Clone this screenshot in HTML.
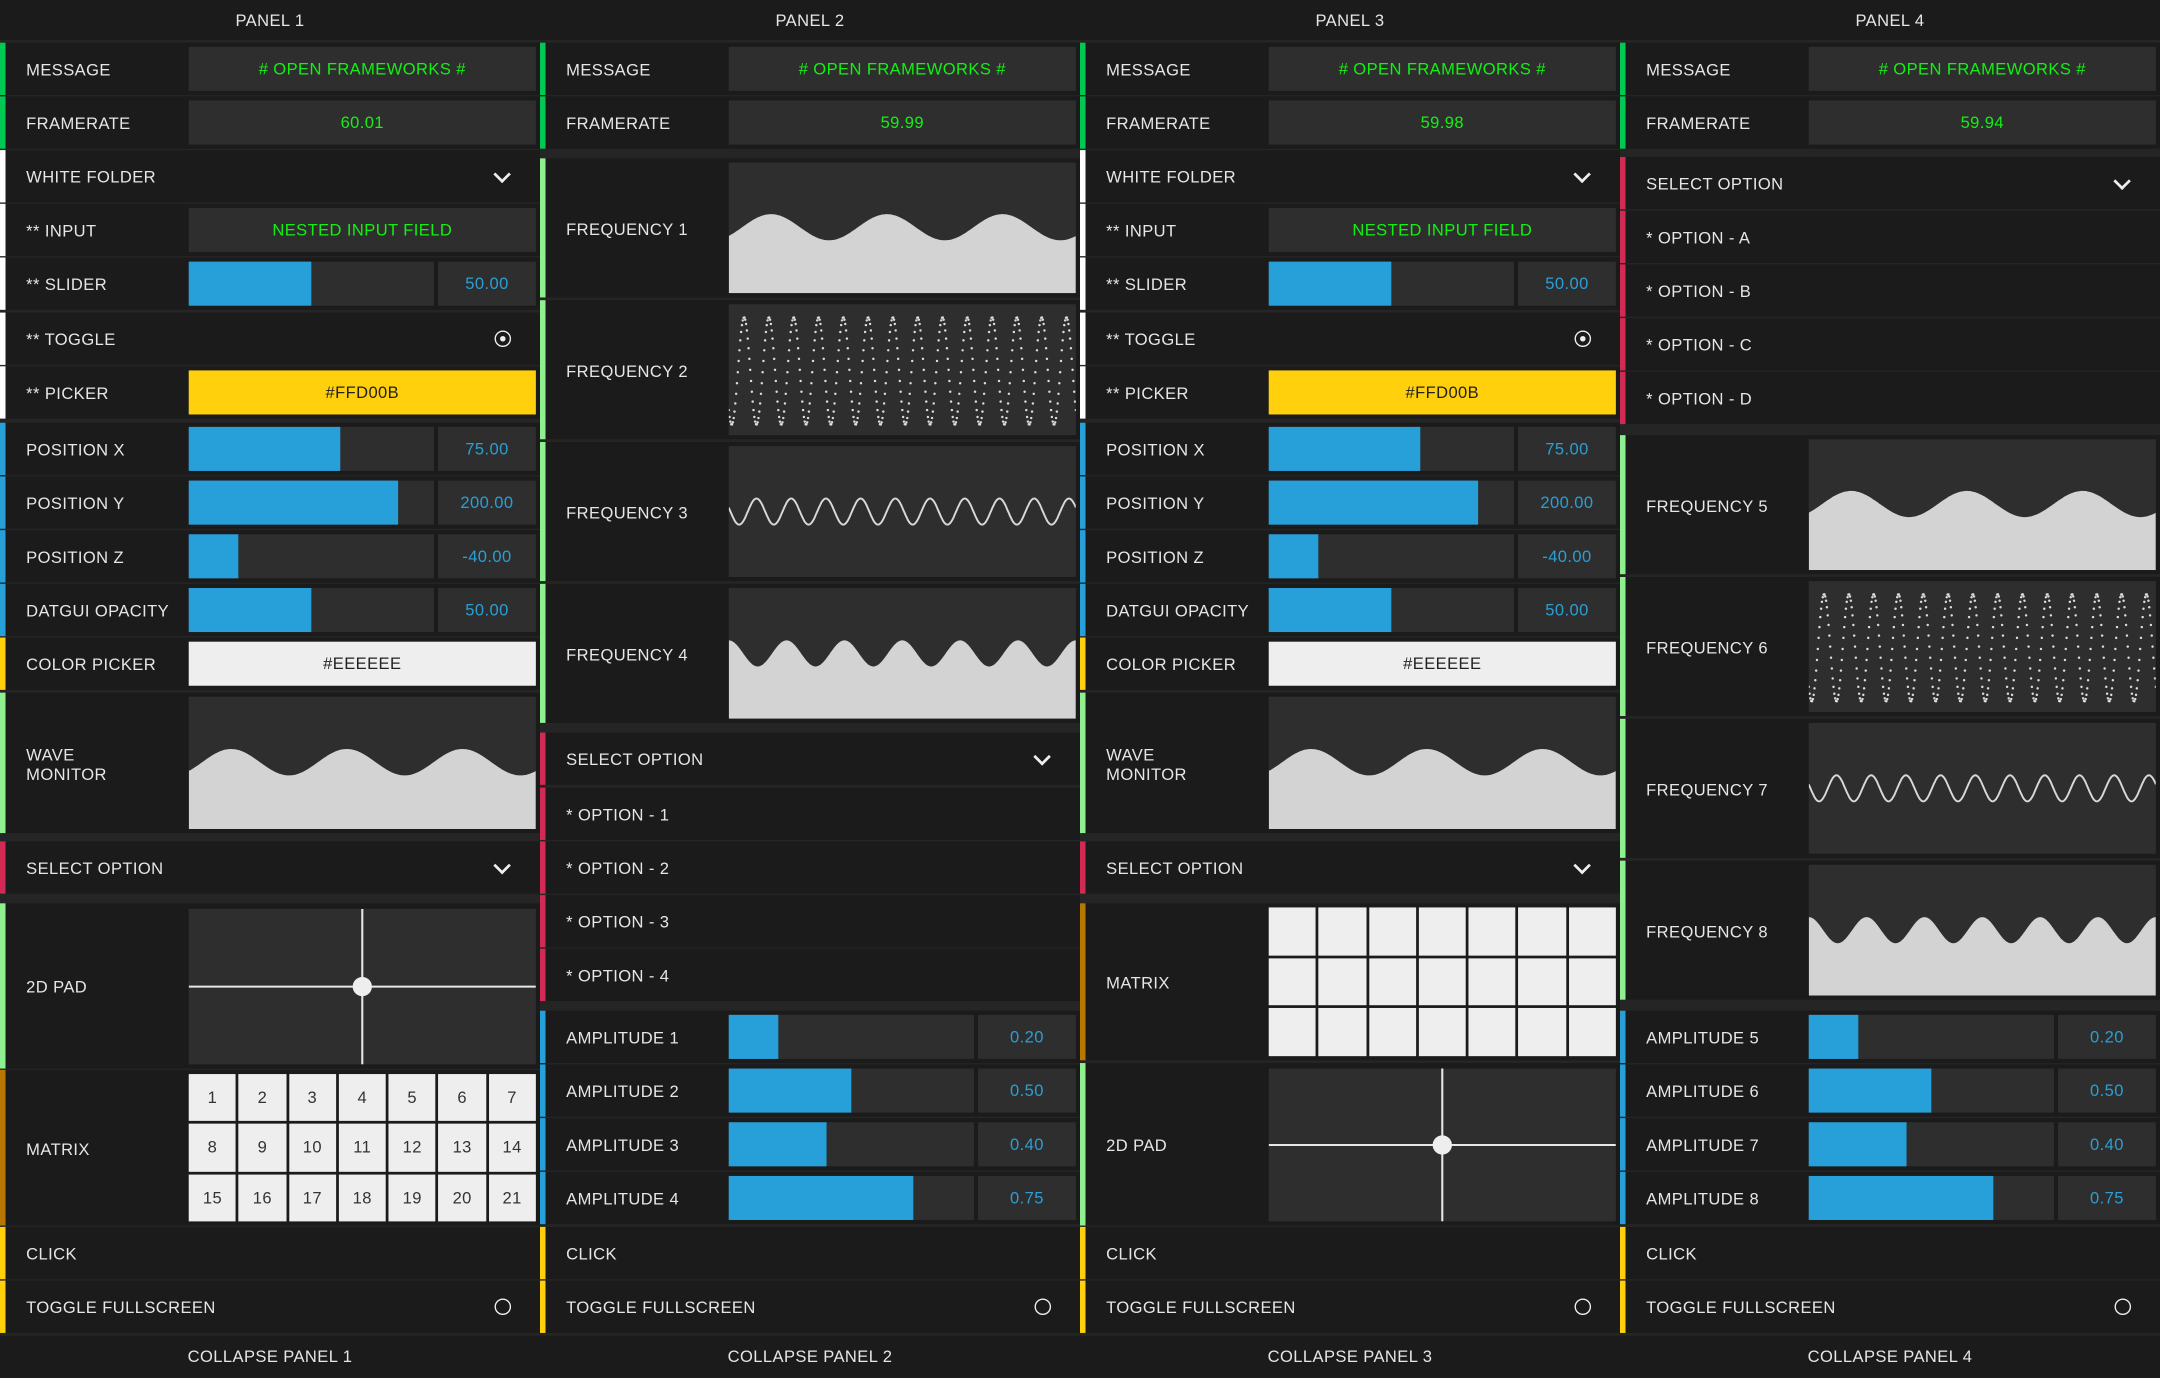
<!DOCTYPE html>
<html><head><meta charset="utf-8"><style>
html,body{margin:0;padding:0;background:#1b1b1b;overflow:hidden}
#stage{position:absolute;left:0;top:0;width:1568px;height:1000px;transform-origin:0 0;transform:scale(1.37755,1.377);font-family:"Liberation Sans",sans-serif;font-size:12px;color:#e6e6e6;letter-spacing:0.3px}
.panel{position:absolute;top:0;width:392px;height:1000px;background:#252525}
.hdr,.ftr{position:absolute;left:0;width:392px;background:#1b1b1b;text-align:center}
.row{position:absolute;left:0;width:392px;background:#1b1b1b}
.stripe{position:absolute;left:0;top:0;bottom:0;width:4px}
.lbl{position:absolute;left:19px;top:50%;transform:translateY(-45%);line-height:14px;white-space:pre}
.box{position:absolute;left:137px;width:252px;background:#2e2e2e;text-align:center}
.chev{position:absolute;left:360px;top:50%;width:7px;height:7px;border-right:2px solid #eee;border-bottom:2px solid #eee;transform:translateY(-65%) rotate(45deg)}
.ring{position:absolute;left:359px;top:50%;width:10px;height:10px;margin-top:-6px;border:1.5px solid #eee;border-radius:50%}
.dot{position:absolute;left:3px;top:3px;width:4px;height:4px;background:#eee;border-radius:50%}
</style></head><body>
<div id="stage"></div>
<script>
// ---- data ----
const panelTitles = ["PANEL 1","PANEL 2","PANEL 3","PANEL 4"];
const framerates = ["60.01","59.99","59.98","59.94"];
const sliderLabels = ["** SLIDER","POSITION X","POSITION Y","POSITION Z","DATGUI OPACITY"];
const sliderFractions = [0.5,0.62,0.855,0.2,0.5];
const sliderValues = ["50.00","75.00","200.00","-40.00","50.00"];
const ampLabels2 = ["AMPLITUDE 1","AMPLITUDE 2","AMPLITUDE 3","AMPLITUDE 4"];
const ampLabels4 = ["AMPLITUDE 5","AMPLITUDE 6","AMPLITUDE 7","AMPLITUDE 8"];
const ampValues = [0.20,0.50,0.40,0.75];
const waveCycles = [3,14,10,6];
const wavePhases = [0.366,0.62,0.8,0];
const waveAmps = [0.1,0.41,0.1,0.1];
const waveMids = [0.495,0.51,0.5,0.5];
const matrixNumbers = [1,2,3,4,5,6,7,8,9,10,11,12,13,14,15,16,17,18,19,20,21];

const G="#00c853",W="#ffffff",B="#27a0da",Y="#ffd00b",LG="#8ef08e",R="#d02a55",BR="#b87800";
const stage=document.getElementById('stage');

function mk(parent,cls,style){const e=document.createElement('div');if(cls)e.className=cls;if(style)e.style.cssText=style;parent.appendChild(e);return e;}

function row(panel,top,h,color,label){
  const r=mk(panel,'row','top:'+top+'px;height:'+h+'px');
  
  
  const s=mk(r,'stripe','background:'+color);
  
  
  const l=mk(r,'lbl');l.textContent=label;
  
  
  return r;
}
function box(r,h,top,extra){const b=mk(r,'box','top:'+(top||3)+'px;height:'+h+'px;line-height:'+(h+1)+'px;'+(extra||''));return b;}

function textRow(p,top,color,label,val){
  const r=row(p,top,38,color,label);
  const b=box(r,32,3,'color:#14f014');b.textContent=val;
  
  
}
function folderRow(p,top,color,label){
  const r=row(p,top,38,color,label);
  
  const c=mk(r,'chev');
  
  
}
function sliderRow(p,top,color,label,frac,val){
  const r=row(p,top,38,color,label);
  const t=mk(r,'box','top:3px;height:32px;width:178px');
  
  
  const f=mk(t,'','position:absolute;left:0;top:0;height:32px;background:#27a0da;width:'+(178*frac)+'px');
  
  
  const v=mk(r,'box','left:318px;width:71px;top:3px;height:32px;line-height:33px;color:#2a9fd6');
  v.textContent=val;
  
  
}
function toggleRow(p,top,color,label,on){
  const r=row(p,top,38,color,label);
  const g=mk(r,'ring');
  
  
  if(on){const d=mk(g,'dot');}
}
function colorRow(p,top,color,label,hex){
  const r=row(p,top,38,color,label);
  const b=box(r,32,3,'background:'+hex+';color:#222');b.textContent=hex.toUpperCase();
  
  
}
function buttonRow(p,top,color,label){
  const r=row(p,top,38,color,label);
  
}
function waveRow(p,top,h,color,label,idx){
  const r=row(p,top,h,color,label);
  const bh=h-6,bw=252;
  const b=box(r,bh,3,'overflow:hidden');
  
  
  const n=waveCycles[idx],ph=wavePhases[idx],A=waveAmps[idx],M=waveMids[idx];
  const yOf=f=>bh*(M-A*Math.cos(2*Math.PI*(n*f-ph)));
  let svg='<svg width="'+bw+'" height="'+bh+'" style="position:absolute;left:0;top:0">';
  if(idx===1){
    const N=420;
    for(let i=0;i<=N;i++){const f=i/N;svg+='<circle cx="'+(f*bw).toFixed(1)+'" cy="'+yOf(f).toFixed(1)+'" r="0.9" fill="#dcdcdc"/>';}
  } else {
    let d='';const N=300;
    for(let i=0;i<=N;i++){const f=i/N;d+=(i?'L':'M')+(f*bw).toFixed(1)+','+yOf(f).toFixed(1);}
    if(idx===2) svg+='<path d="'+d+'" fill="none" stroke="#d8d8d8" stroke-width="1.4"/>';
    else svg+='<path d="'+d+'L'+bw+','+bh+'L0,'+bh+'Z" fill="#d3d3d3"/>';
  }
  svg+='</svg>';
  b.innerHTML=svg;
}
function padRow(p,top,h,color,label){
  const r=row(p,top,h,color,label);
  const bh=h-7;
  const b=box(r,bh,4,'');
  
  
  b.innerHTML='<svg width="252" height="'+bh+'" style="position:absolute;left:0;top:0"><line x1="0" y1="'+bh/2+'" x2="252" y2="'+bh/2+'" stroke="#e8e8e8" stroke-width="1.5"/><line x1="126" y1="0" x2="126" y2="'+bh+'" stroke="#e8e8e8" stroke-width="1.5"/><circle cx="126" cy="'+bh/2+'" r="7" fill="#eee"/></svg>';
}
function matrixRow(p,top,h,color,label,nums){
  const r=row(p,top,h,color,label);
  const bh=h-6,cw=(252-6*1.8)/7,ch=(bh-2*1.8)/3;
  for(let k=0;k<21;k++){
    const c=k%7,rr=Math.floor(k/7);
    const cell=mk(r,'','position:absolute;background:#eeeeee;color:#333;text-align:center;font-size:12px;left:'+(137+c*(cw+1.8))+'px;top:'+(3+rr*(ch+1.8))+'px;width:'+cw+'px;height:'+ch+'px;line-height:'+(ch+1)+'px');
    if(nums) cell.textContent=nums[k];
    
    
  }
}
function optionRow(p,top,label){const r=row(p,top,38,R,label);}

function panel(i){
  const p=mk(stage,'panel','left:'+(i*392)+'px');
  
  
  const h=mk(p,'hdr','top:0;height:29px;line-height:30px');h.textContent=panelTitles[i];
  
  
  const f=mk(p,'ftr','top:970px;height:30px;line-height:31px');f.textContent='COLLAPSE '+panelTitles[i];
  
  
  textRow(p,31,G,'MESSAGE','# OPEN FRAMEWORKS #');
  textRow(p,70,G,'FRAMERATE',framerates[i]);
  if(i===0||i===2){
    folderRow(p,109,W,'WHITE FOLDER');
    textRow(p,148,W,'** INPUT','NESTED INPUT FIELD');
    sliderRow(p,187,W,sliderLabels[0],sliderFractions[0],sliderValues[0]);
    toggleRow(p,227,W,'** TOGGLE',true);
    colorRow(p,266,W,'** PICKER','#FFD00B');
    for(let k=1;k<5;k++) sliderRow(p,307+(k-1)*39,B,sliderLabels[k],sliderFractions[k],sliderValues[k]);
    colorRow(p,463,Y,'COLOR PICKER','#EEEEEE');
    waveRow(p,503,102,LG,'WAVE\nMONITOR',0);
    folderRow(p,611,R,'SELECT OPTION');
    if(i===0){padRow(p,656,120,LG,'2D PAD');matrixRow(p,777,113,BR,'MATRIX',matrixNumbers);}
    else{matrixRow(p,656,114,BR,'MATRIX',null);padRow(p,772,118,LG,'2D PAD');}
  } else if(i===1){
    const fl=["FREQUENCY 1","FREQUENCY 2","FREQUENCY 3","FREQUENCY 4"];
    for(let k=0;k<4;k++) waveRow(p,115+k*103,101,LG,fl[k],k);
    folderRow(p,532,R,'SELECT OPTION');
    for(let k=0;k<4;k++) optionRow(p,572+k*39,'* OPTION - '+(k+1));
    for(let k=0;k<4;k++) sliderRow(p,734+k*39,B,ampLabels2[k],ampValues[k],ampValues[k].toFixed(2));
  } else {
    folderRow(p,114,R,'SELECT OPTION');
    const ol=['A','B','C','D'];
    for(let k=0;k<4;k++) optionRow(p,153+k*39,'* OPTION - '+ol[k]);
    const fl=["FREQUENCY 5","FREQUENCY 6","FREQUENCY 7","FREQUENCY 8"];
    for(let k=0;k<4;k++) waveRow(p,316+k*103,101,LG,fl[k],k);
    for(let k=0;k<4;k++) sliderRow(p,734+k*39,B,ampLabels4[k],ampValues[k],ampValues[k].toFixed(2));
  }
  buttonRow(p,891,Y,'CLICK');
  toggleRow(p,930,Y,'TOGGLE FULLSCREEN',false);
}
for(let i=0;i<4;i++) panel(i);
</script>
</body></html>
